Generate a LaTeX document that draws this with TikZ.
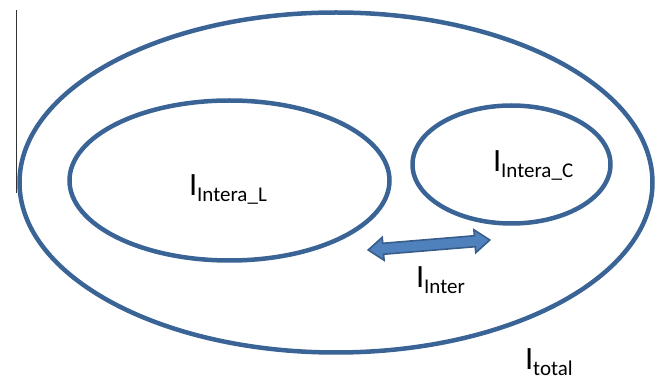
\documentclass[tikz,border=0pt]{standalone}
\usepackage{fontspec}
\setmainfont{Carlito}
\usetikzlibrary{shapes.geometric}
\definecolor{ringblue}{HTML}{3A6496}
\definecolor{arrowfill}{HTML}{4F81BD}
\definecolor{arrowline}{HTML}{385D8A}
\newcommand{\lbl}[1]{\fontsize{32.5}{34}\selectfont I\raisebox{-5.5pt}{\fontsize{21}{22}\selectfont #1}}
\begin{document}
\begin{tikzpicture}[x=1pt,y=1pt,
  ring/.style={ellipse, draw=ringblue, line width=4.5pt, inner sep=0pt, outer sep=0pt},
  lab/.style={anchor=base west, inner sep=0pt, outer sep=0pt}]
\useasboundingbox (0,0) rectangle (665,378);
\node[ring, minimum width=633pt, minimum height=340pt] (outer) at (336,195.5) {};
\node[ring, minimum width=320pt, minimum height=160pt] (left) at (229.5,197.5) {};
\node[ring, minimum width=198pt, minimum height=118pt] (right) at (511.5,213.5) {};
\coordinate (lt) at (16,368);
\coordinate (lb) at (16,185);
\draw[line width=1pt, black!80] (lt) -- (lb);
\coordinate (ac) at (429,133);
\begin{scope}[shift={(ac)}, rotate=4.7]
\draw[fill=arrowfill, draw=arrowline, line width=1.6pt, line join=miter]
  (-61,0) -- (-46,11.5) -- (-46,5.5) -- (46,5.5) -- (46,11.5) -- (61,0)
  -- (46,-11.5) -- (46,-5.5) -- (-46,-5.5) -- (-46,-11.5) -- cycle;
\end{scope}
\node[lab] (tL) at (189,182) {\lbl{Intera\_L}};
\node[lab] (tC) at (493,206) {\lbl{Intera\_C}};
\node[lab] (tI) at (416,90) {\lbl{Inter}};
\node[lab] (tT) at (525,8) {\lbl{total}};
\end{tikzpicture}
\end{document}
